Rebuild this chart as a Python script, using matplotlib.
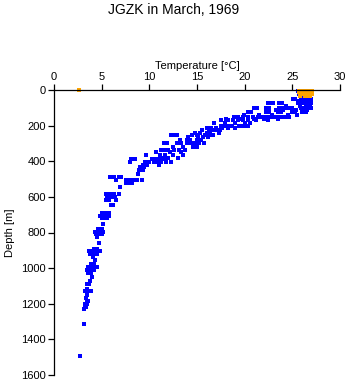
#!/usr/bin/env python3
"""JGZK station profile, March 1969: temperature vs depth scatter."""
import matplotlib
matplotlib.use("Agg")
import matplotlib.pyplot as plt
import numpy as np

plt.rcParams["font.family"] = ["Liberation Sans", "DejaVu Sans"]

# depth levels [m] and the temperatures [degC] read at each level (blue casts)
levels = [
    5, 20, 40, 50, 60, 75, 90, 100, 115, 125, 140, 150, 160, 170, 185, 200,
    215, 225, 240, 250, 265, 280, 300, 320, 335, 350, 365, 380, 390, 405,
    420, 430, 450, 470, 490, 505, 520, 545, 585, 600, 615, 645, 690, 705,
    720, 755, 780, 795, 810, 825, 860, 890, 905, 920, 935, 955, 975, 995,
    1010, 1030, 1050, 1075, 1090, 1115, 1130, 1150, 1170, 1185, 1200, 1220,
    1232, 1315, 1493,
]
temps_at_level = [
    [25.6, 26.3, 27.0],
    [25.7, 26.0, 26.6, 27.1],
    [26.0, 26.4, 26.9],
    [25.1, 25.3, 25.9, 26.2, 26.5, 26.8, 27.0],
    [25.7, 26.1, 26.6],
    [22.4, 22.7, 23.0, 23.6, 23.9, 25.6, 26.0, 26.3, 26.7, 27.0],
    [24.3, 25.8, 26.4, 26.9],
    [21.0, 21.3, 22.2, 22.5, 23.6, 23.9, 24.2, 24.6, 25.0, 25.9, 26.3, 26.6, 27.0],
    [22.3, 23.3, 24.0, 25.4, 26.0, 26.5],
    [20.4, 20.7, 22.2, 22.5, 23.5, 23.8, 25.0, 25.3, 26.0, 26.4],
    [19.9, 21.5, 22.9, 24.5, 25.5],
    [18.9, 19.3, 19.8, 20.4, 20.9, 21.4, 21.8, 22.2, 22.6, 23.0, 23.4, 23.8, 24.2, 24.7],
    [18.0, 19.5, 21.0, 22.0, 23.5],
    [17.5, 18.3, 18.8, 19.3, 19.8, 20.3, 21.2, 22.4],
    [16.8, 17.9, 19.0, 20.0, 20.6],
    [17.5, 17.9, 18.3, 18.7, 19.4, 19.7, 20.0, 20.3],
    [16.0, 16.5, 17.0, 17.6, 18.2, 19.0],
    [15.5, 16.3, 16.7, 17.0, 17.4],
    [14.8, 15.3, 16.0, 16.4, 17.3],
    [12.3, 12.6, 12.9, 14.5, 15.0, 15.8, 16.3, 16.7],
    [14.1, 15.1, 15.6, 16.2],
    [13.2, 13.9, 14.3, 15.0, 15.4],
    [11.5, 11.9, 12.9, 13.3, 14.0, 14.4, 14.8, 15.2, 15.7],
    [12.5, 13.5, 14.6, 15.0],
    [11.2, 11.6, 12.0, 12.6, 13.1, 13.7],
    [10.7, 12.2, 13.3],
    [9.7, 11.1, 11.6, 12.5, 13.5],
    [11.4, 12.0, 13.0],
    [8.1, 8.5, 10.3, 10.7, 11.1, 11.5],
    [8.0, 9.5, 10.0, 10.5, 10.9, 11.2, 11.8, 12.3],
    [9.3, 9.8, 11.0],
    [9.0, 9.4],
    [8.9, 9.3],
    [8.8],
    [5.9, 6.3, 6.8, 7.0],
    [6.5, 7.5, 7.9, 8.3, 8.7, 9.2],
    [7.5, 7.8, 8.2],
    [6.9],
    [5.5, 5.9, 6.3, 6.8],
    [5.6, 6.0, 6.4],
    [5.5, 5.8, 6.5],
    [6.0, 6.2],
    [5.0, 5.4, 5.8],
    [4.8, 5.2, 5.5, 5.8],
    [5.0, 5.3, 5.6],
    [5.1],
    [4.6, 5.0],
    [4.3, 4.7, 5.1],
    [4.4, 4.8, 5.0],
    [4.5],
    [4.7],
    [4.2, 4.5],
    [3.7, 4.0, 4.4, 4.8],
    [3.8, 4.2, 4.5],
    [4.1],
    [4.3],
    [3.9, 4.2],
    [3.6, 3.9, 4.3, 4.5],
    [3.5, 3.9, 4.2],
    [3.6, 3.9],
    [4.0],
    [3.8],
    [3.5, 3.7],
    [3.5],
    [3.3, 3.6, 3.9],
    [3.5],
    [3.4],
    [3.5, 3.6],
    [3.2, 3.5],
    [3.2, 3.4],
    [3.1],
    [3.1],
    [2.7],
]

# surface observations (orange)
surf_temp = [2.6,
             25.7, 26.0, 26.3, 26.6, 26.9, 27.1,
             25.7, 26.0, 26.4, 26.7, 27.0,
             25.8, 26.2, 26.5, 26.8, 27.1,
             25.8, 26.3, 26.6, 26.9]
surf_depth = [0,
              3, 3, 3, 3, 3, 3,
              13, 13, 13, 13, 13,
              23, 23, 23, 23, 23,
              32, 32, 32, 32]

x_ticks = [0, 5, 10, 15, 20, 25, 30]
y_ticks = [0, 200, 400, 600, 800, 1000, 1200, 1400, 1600]


def main():
    blue_t = [t for row in temps_at_level for t in row]
    blue_d = [d for d, row in zip(levels, temps_at_level) for _ in row]

    fig = plt.figure(figsize=(3.48, 3.84), dpi=100)
    ax = fig.add_axes([54 / 348, 1 - 375 / 384, 286 / 348, 285 / 384])

    ax.plot(blue_t, blue_d, "s", color="#0000ff", markersize=2.5,
            markeredgewidth=0, clip_on=False)
    ax.plot(surf_temp, surf_depth, "s", color="#ffa500", markersize=3.0,
            markeredgewidth=0, clip_on=False)

    ax.set_xlim(0, 30)
    ax.set_ylim(1600, 0)
    ax.set_xticks(x_ticks)
    ax.set_yticks(y_ticks)

    ax.xaxis.tick_top()
    ax.xaxis.set_label_position("top")
    for side in ("right", "bottom"):
        ax.spines[side].set_visible(False)
    for side in ("top", "left"):
        ax.spines[side].set_linewidth(0.9)
    ax.tick_params(direction="out", length=4, width=0.9, labelsize=8, pad=2)

    ax.set_xlabel("Temperature [°C]", fontsize=8, labelpad=2)
    ax.set_ylabel("Depth [m]", fontsize=8, labelpad=4)

    fig.text(0.5, 1 - 10 / 384, "JGZK in March, 1969", ha="center",
             va="center", fontsize=10)

    fig.savefig("out.png", dpi=100)
    plt.close(fig)


if __name__ == "__main__":
    main()
